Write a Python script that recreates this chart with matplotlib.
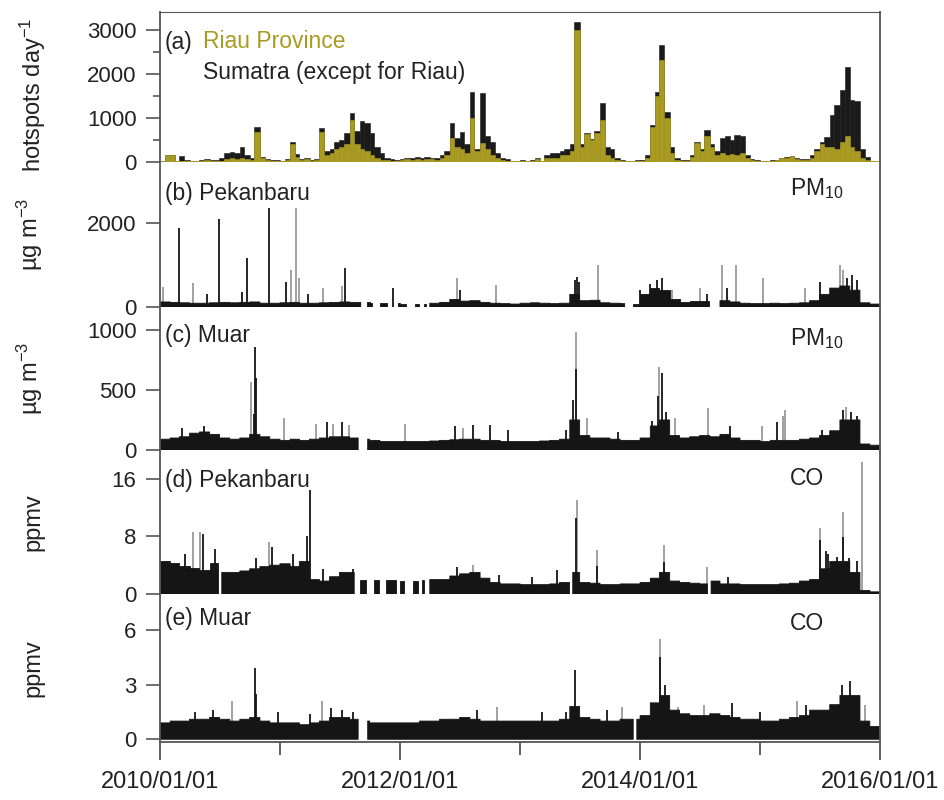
import matplotlib
matplotlib.use('Agg')
import matplotlib.pyplot as plt
import matplotlib.dates as mdates
import numpy as np
import pandas as pd

from matplotlib.ticker import MultipleLocator

plt.rcParams['font.family'] = ['Liberation Sans', 'DejaVu Sans']
plt.rcParams['mathtext.default'] = 'regular'

# (a) hotspots per day, semi-monthly bins starting 2010/01/01 (24 per year)
hotspots_total = [
    20, 150, 150, 30, 130, 40, 30, 30, 40, 60, 50, 40, 80, 200, 230, 210, 340, 150, 80, 800, 120, 60, 40, 40,
    30, 60, 450, 180, 60, 90, 50, 60, 770, 250, 300, 450, 500, 650, 1110, 700, 930, 880, 650, 350, 200, 100, 60, 40,
    60, 100, 90, 110, 80, 120, 100, 80, 150, 250, 880, 540, 680, 400, 1590, 300, 1560, 600, 450, 200, 100, 60, 30, 30,
    40, 30, 40, 100, 30, 150, 200, 200, 250, 300, 400, 3180, 400, 660, 520, 700, 1340, 340, 300, 100, 50, 30, 30, 40,
    40, 150, 840, 1590, 2650, 1130, 340, 80, 40, 40, 150, 450, 300, 720, 400, 250, 550, 600, 500, 620, 600, 150, 60, 40,
    30, 30, 40, 50, 100, 120, 130, 80, 60, 70, 150, 300, 450, 560, 1060, 1300, 1640, 2160, 1400, 1380, 300, 120, 30, 10,
]
hotspots_riau = [
    10, 150, 150, 20, 30, 20, 20, 20, 30, 40, 30, 20, 30, 60, 80, 60, 80, 60, 40, 690, 80, 40, 20, 20,
    20, 40, 400, 120, 40, 60, 30, 40, 690, 150, 200, 300, 350, 400, 950, 400, 300, 250, 150, 80, 50, 40, 30, 20,
    40, 60, 50, 60, 40, 70, 60, 40, 80, 150, 540, 350, 300, 200, 1000, 250, 430, 300, 150, 80, 50, 30, 20, 20,
    20, 20, 20, 60, 20, 80, 100, 100, 150, 150, 250, 3000, 350, 640, 500, 650, 950, 150, 100, 50, 30, 20, 20, 20,
    20, 100, 800, 1500, 2320, 1000, 200, 50, 30, 30, 120, 430, 250, 600, 350, 150, 200, 150, 180, 150, 200, 80, 40, 30,
    20, 20, 30, 40, 80, 100, 130, 60, 40, 50, 100, 250, 400, 350, 340, 300, 450, 600, 350, 250, 80, 40, 20, 5,
]

# (b) Pekanbaru PM10: monthly background level, data gaps, single-day spikes
pek_pm10_monthly = [
    120, 110, 100, 90, 90, 100, 110, 100, 110, 120, 90, 90,
    100, 110, 90, 90, 100, 110, 120, 110, 110, 100, 90, 90,
    80, 80, 70, 90, 110, 180, 140, 150, 110, 90, 80, 70,
    90, 100, 90, 80, 90, 300, 150, 160, 100, 90, 80, 80,
    300, 450, 400, 200, 120, 150, 150, 200, 150, 120, 90, 80,
    80, 90, 80, 90, 100, 150, 300, 450, 500, 400, 100, 70,
]
pek_pm10_gaps = [
    ('2011-09-05', '2011-09-22'), ('2011-10-10', '2011-11-02'), ('2011-11-25', '2011-12-25'),
    ('2012-01-20', '2012-02-15'), ('2012-03-01', '2012-03-15'), ('2012-03-20', '2012-04-01'),
    ('2013-11-16', '2013-12-10'), ('2014-08-01', '2014-09-01'),
]
pek_pm10_dates = [
    '2010-01-10', '2010-02-27', '2010-04-10', '2010-05-23', '2010-07-01', '2010-09-07', '2010-09-22',
    '2010-11-28', '2011-01-19', '2011-02-03', '2011-02-18', '2011-02-27', '2011-03-26', '2011-05-11',
    '2011-07-08', '2011-07-17', '2011-12-10', '2012-06-22', '2012-07-01', '2012-10-19', '2013-06-16',
    '2013-06-23', '2013-06-30', '2013-08-25', '2014-01-02', '2014-02-01', '2014-02-22', '2014-03-08',
    '2014-04-08', '2014-07-02', '2014-07-23', '2014-09-07', '2014-09-22', '2014-10-20', '2015-01-10',
    '2015-05-17', '2015-07-02', '2015-09-01', '2015-09-10', '2015-09-22', '2015-10-07', '2015-10-22',
]
pek_pm10_vals = [
    480, 1880, 570, 300, 2090, 350, 1170,
    2360, 600, 880, 2360, 700, 300, 460,
    500, 930, 460, 700, 400, 520, 650,
    720, 600, 1000, 400, 550, 650, 700,
    400, 450, 300, 1000, 450, 1000, 700,
    450, 600, 1000, 880, 700, 750, 650,
]
pek_pm10_kind = [
    'g', 'k', 'g', 'k', 'k', 'k', 'k',
    'k', 'k', 'g', 'g', 'g', 'k', 'g',
    'g', 'k', 'k', 'g', 'k', 'g', 'k',
    'k', 'k', 'g', 'k', 'k', 'k', 'k',
    'g', 'g', 'k', 'g', 'k', 'g', 'g',
    'g', 'k', 'g', 'g', 'k', 'k', 'k',
]

# (c) Muar PM10
muar_pm10_monthly = [
    90, 100, 110, 140, 150, 130, 100, 90, 100, 130, 110, 90,
    80, 90, 80, 90, 100, 110, 110, 100, 90, 80, 70, 70,
    70, 70, 70, 75, 80, 85, 90, 90, 80, 80, 70, 70,
    70, 70, 75, 80, 90, 250, 120, 100, 100, 90, 80, 80,
    100, 200, 250, 120, 100, 110, 120, 110, 130, 100, 80, 80,
    70, 80, 80, 80, 90, 100, 120, 160, 250, 250, 50, 40,
]
muar_pm10_gaps = [('2011-08-28', '2011-09-25')]
muar_pm10_dates = [
    '2010-03-08', '2010-05-15', '2010-10-04', '2010-10-15', '2010-10-17', '2010-10-20', '2011-01-13',
    '2011-04-20', '2011-05-25', '2011-06-12', '2011-07-08', '2011-07-30', '2012-01-16', '2012-06-16',
    '2012-07-12', '2012-08-10', '2012-10-01', '2012-11-24', '2013-05-20', '2013-06-11', '2013-06-20',
    '2013-06-20', '2013-07-23', '2013-10-26', '2014-02-06', '2014-02-24', '2014-02-28', '2014-03-08',
    '2014-03-22', '2014-04-17', '2014-07-26', '2014-10-01', '2015-01-07', '2015-02-22', '2015-03-12',
    '2015-03-17', '2015-07-08', '2015-09-10', '2015-09-20', '2015-10-05', '2015-10-23',
]
muar_pm10_vals = [
    180, 200, 570, 300, 860, 600, 270,
    220, 230, 220, 230, 210, 220, 200,
    180, 210, 210, 170, 170, 420, 980,
    670, 270, 150, 240, 450, 690, 640,
    320, 270, 350, 200, 200, 230, 280,
    330, 170, 330, 360, 320, 280,
]
muar_pm10_kind = [
    'k', 'k', 'g', 'k', 'k', 'k', 'g',
    'g', 'k', 'g', 'k', 'g', 'g', 'k',
    'g', 'k', 'k', 'k', 'k', 'k', 'g',
    'k', 'g', 'k', 'k', 'k', 'g', 'k',
    'k', 'g', 'g', 'k', 'g', 'k', 'g',
    'g', 'k', 'k', 'g', 'k', 'k',
]

# (d) Pekanbaru CO
pek_co_monthly = [
    4.6, 4.3, 3.9, 3.6, 3.4, 4.3, 3.0, 3.0, 3.2, 3.5, 3.8, 4.0,
    4.2, 3.8, 4.5, 2.0, 1.8, 2.4, 3.0, 3.0, 2.0, 2.0, 2.0, 2.0,
    1.8, 1.8, 2.0, 2.0, 2.0, 2.5, 2.8, 3.0, 2.2, 1.6, 1.4, 1.4,
    1.3, 1.3, 1.3, 1.4, 1.6, 3.0, 1.6, 1.5, 1.3, 1.3, 1.4, 1.4,
    1.6, 2.2, 3.0, 1.8, 1.6, 1.5, 1.4, 1.8, 1.4, 1.4, 1.3, 1.3,
    1.3, 1.3, 1.4, 1.5, 1.8, 2.0, 3.5, 4.5, 4.5, 3.0, 0.5, 0.3,
]
pek_co_gaps = [
    ('2010-06-26', '2010-07-08'), ('2011-08-16', '2011-09-01'), ('2011-09-20', '2011-10-15'),
    ('2011-10-30', '2011-11-20'), ('2011-12-20', '2012-01-01'), ('2012-01-15', '2012-02-10'),
    ('2012-02-25', '2012-03-08'), ('2012-03-15', '2012-04-01'), ('2013-06-01', '2013-06-10'),
    ('2014-07-26', '2014-08-05'),
]
pek_co_dates = [
    '2010-03-17', '2010-04-10', '2010-05-02', '2010-05-13', '2010-06-18', '2010-10-19', '2010-11-28',
    '2010-12-08', '2011-02-09', '2011-03-24', '2011-04-02', '2011-05-11', '2011-08-10', '2012-06-22',
    '2012-08-10', '2012-10-28', '2013-02-06', '2013-04-22', '2013-06-20', '2013-06-23', '2013-08-22',
    '2013-08-22', '2014-03-14', '2014-03-14', '2014-07-23', '2014-09-25', '2015-07-02', '2015-07-02',
    '2015-07-20', '2015-07-27', '2015-08-22', '2015-09-10', '2015-09-10', '2015-09-28', '2015-10-22',
    '2015-11-06',
]
pek_co_vals = [
    5.5, 8.6, 8.6, 8.3, 6.2, 5.0, 7.2,
    6.5, 5.5, 8.0, 14.4, 3.5, 3.5, 3.7,
    4.0, 2.6, 2.3, 3.3, 10.5, 13.1, 6.1,
    3.9, 6.8, 4.5, 3.8, 2.4, 9.1, 7.5,
    6.0, 5.6, 5.2, 11.4, 7.9, 5.0, 4.6,
    18.4,
]
pek_co_kind = [
    'k', 'g', 'g', 'k', 'k', 'k', 'g',
    'k', 'k', 'k', 'k', 'k', 'k', 'k',
    'g', 'k', 'k', 'k', 'k', 'g', 'g',
    'k', 'g', 'k', 'g', 'k', 'g', 'k',
    'k', 'k', 'k', 'g', 'k', 'k', 'k',
    'g',
]

# (e) Muar CO
muar_co_monthly = [
    0.9, 1.0, 1.0, 1.1, 1.1, 1.2, 1.1, 1.0, 1.1, 1.2, 1.0, 0.9,
    0.9, 0.9, 0.8, 0.9, 1.0, 1.2, 1.2, 1.1, 1.0, 0.9, 0.9, 0.9,
    0.9, 0.9, 1.0, 1.0, 1.1, 1.1, 1.2, 1.1, 1.0, 1.0, 1.0, 1.0,
    1.0, 1.0, 1.0, 1.0, 1.1, 1.8, 1.2, 1.1, 1.0, 1.0, 1.1, 1.1,
    1.3, 2.0, 2.4, 1.6, 1.4, 1.3, 1.3, 1.4, 1.3, 1.2, 1.1, 1.1,
    1.0, 1.0, 1.1, 1.2, 1.3, 1.6, 1.6, 1.9, 2.4, 2.4, 1.0, 0.7,
]
muar_co_gaps = [('2011-08-28', '2011-09-25'), ('2013-12-12', '2013-12-22')]
muar_co_dates = [
    '2010-04-17', '2010-06-10', '2010-08-08', '2010-10-17', '2010-10-19', '2010-12-25', '2011-04-02',
    '2011-05-08', '2011-06-05', '2011-07-10', '2011-08-10', '2012-08-22', '2012-10-22', '2013-03-08',
    '2013-05-20', '2013-06-17', '2013-09-22', '2013-11-07', '2014-02-06', '2014-03-02', '2014-03-02',
    '2014-03-18', '2014-04-25', '2014-07-15', '2014-10-07', '2015-01-01', '2015-04-22', '2015-05-20',
    '2015-09-07', '2015-10-01', '2015-10-30', '2015-11-16',
]
muar_co_vals = [
    1.5, 1.6, 2.1, 3.9, 2.5, 1.5, 1.4,
    2.1, 1.7, 1.6, 1.5, 1.6, 1.8, 1.5,
    1.5, 3.8, 1.6, 1.8, 2.0, 5.5, 4.5,
    3.0, 1.8, 1.9, 2.0, 1.5, 2.1, 1.9,
    3.0, 3.2, 2.2, 1.9,
]
muar_co_kind = [
    'k', 'k', 'g', 'k', 'k', 'k', 'k',
    'g', 'k', 'k', 'k', 'k', 'g', 'k',
    'k', 'k', 'k', 'g', 'k', 'g', 'k',
    'k', 'g', 'g', 'k', 'k', 'g', 'k',
    'k', 'k', 'k', 'g',
]

OLIVE = '#a99b22'
TXT = '#222222'
AXC = '#555555'
GRAY = '#9a9a9a'
DARK = '#151515'


def draw_station(ax, monthly, gaps, dates, vals, kind):
    days = pd.date_range('2010-01-01', '2015-12-31', freq='D')
    idx = (days.year - 2010) * 12 + days.month - 1
    bg = np.array(monthly, dtype=float)[idx]
    ok = np.ones(len(days), dtype=bool)
    for s, e in gaps:
        ok &= ~((days >= pd.Timestamp(s)) & (days < pd.Timestamp(e)))
    d = pd.to_datetime(dates)
    v = np.array(vals)
    k = np.array(kind)
    # gray spikes sit behind the black data
    ax.vlines(d[k == 'g'], 0, v[k == 'g'], colors=GRAY, linewidth=1.3, zorder=1)
    ax.fill_between(days, 0, bg, where=ok, step='post', color=DARK, lw=0.6, edgecolor=DARK, zorder=2)
    ax.vlines(d[k == 'k'], 0, v[k == 'k'], colors=DARK, linewidth=1.3, zorder=3)


def style_axis(ax, ylim, major, minor=None):
    ax.set_ylim(*ylim)
    ax.yaxis.set_major_locator(MultipleLocator(major))
    if minor:
        ax.yaxis.set_minor_locator(MultipleLocator(minor))
    ax.tick_params(axis='y', which='major', direction='out', length=10, width=1.2, color=AXC,
                   labelsize=16, labelcolor=TXT, pad=7)
    ax.tick_params(axis='y', which='minor', direction='out', length=5, width=1.2, color=AXC)
    ax.tick_params(axis='x', which='both', bottom=False, labelbottom=False)
    for sp in ['top', 'bottom']:
        ax.spines[sp].set_visible(False)
    for sp in ['left', 'right']:
        ax.spines[sp].set_color(AXC)
        ax.spines[sp].set_linewidth(1.3)


def main():
    fig = plt.figure(figsize=(9.45, 8), dpi=100)
    left, width = 160 / 945, 720 / 945
    # panel top/bottom in pixels (from top of the image)
    rows = [(12, 162), (162, 307), (307, 450), (450, 594), (594, 742)]
    axes = []
    for top, bot in rows:
        ax = fig.add_axes([left, 1 - bot / 800, width, (bot - top) / 800])
        axes.append(ax)
    xmin, xmax = pd.Timestamp('2010-01-01'), pd.Timestamp('2016-01-01')

    # (a) hotspots
    ax = axes[0]
    edges = pd.date_range('2010-01-01', periods=145, freq='SMS')
    widths = np.array((edges[1:] - edges[:-1]).days)
    ax.bar(edges[:-1], hotspots_total, width=widths, align='edge', color='#1a1a1a', edgecolor='#1a1a1a', lw=0.4)
    ax.bar(edges[:-1], hotspots_riau, width=widths, align='edge', color=OLIVE, edgecolor=OLIVE, lw=0.4)
    ax.axhline(0, color=OLIVE, lw=2)
    style_axis(ax, (0, 3400), 1000, 500)
    ax.spines['top'].set_visible(True)
    ax.spines['top'].set_color(AXC)
    ax.text(0.007, 0.8, '(a)', transform=ax.transAxes, fontsize=16.5, color=TXT, va='center')
    ax.text(0.06, 0.8, 'Riau Province', transform=ax.transAxes, fontsize=16.5, color=OLIVE, va='center')
    ax.text(0.06, 0.6, 'Sumatra (except for Riau)', transform=ax.transAxes, fontsize=16.5, color=TXT, va='center')
    ax.set_ylabel('hotspots day$^{-1}$', fontsize=17, color=TXT)
    ax.yaxis.set_label_coords(-0.155, 0.45)

    # (b) - (e) stations
    panels = [
        (axes[1], pek_pm10_monthly, pek_pm10_gaps, pek_pm10_dates, pek_pm10_vals, pek_pm10_kind,
         (0, 3450), 2000, '(b) Pekanbaru', 'PM$_{10}$', 'µg m$^{-3}$', 0.786, 0.82),
        (axes[2], muar_pm10_monthly, muar_pm10_gaps, muar_pm10_dates, muar_pm10_vals, muar_pm10_kind,
         (0, 1190), 500, '(c) Muar', 'PM$_{10}$', 'µg m$^{-3}$', 0.8, 0.78),
        (axes[3], pek_co_monthly, pek_co_gaps, pek_co_dates, pek_co_vals, pek_co_kind,
         (0, 20), 8, '(d) Pekanbaru', 'CO', 'ppmv', 0.79, 0.8),
        (axes[4], muar_co_monthly, muar_co_gaps, muar_co_dates, muar_co_vals, muar_co_kind,
         (-0.15, 7.98), 3, '(e) Muar', 'CO', 'ppmv', 0.835, 0.8),
    ]
    for ax, mon, gaps, dts, vals, kind, ylim, major, lab, species, unit, ly, sy in panels:
        draw_station(ax, mon, gaps, dts, vals, kind)
        style_axis(ax, ylim, major)
        ax.text(0.007, ly, lab, transform=ax.transAxes, fontsize=16.5, color=TXT, va='center')
        ax.text(0.875, sy, species, transform=ax.transAxes, fontsize=16.5, color=TXT, va='center')
        ax.set_ylabel(unit, fontsize=17, color=TXT)
        ax.yaxis.set_label_coords(-0.16, 0.5)

    for ax in axes:
        ax.set_xlim(xmin, xmax)

    # bottom date axis
    ax = axes[4]
    ax.spines['bottom'].set_visible(True)
    ax.spines['bottom'].set_color(AXC)
    ax.spines['bottom'].set_linewidth(1.3)
    ax.xaxis.set_major_locator(mdates.YearLocator(2))
    ax.xaxis.set_minor_locator(mdates.YearLocator(1))
    ax.xaxis.set_major_formatter(mdates.DateFormatter('%Y/%m/%d'))
    ax.tick_params(axis='x', which='major', bottom=True, labelbottom=True, direction='out', length=13,
                   width=1.3, color=AXC, labelsize=17, labelcolor=TXT, pad=8)
    ax.tick_params(axis='x', which='minor', bottom=True, direction='out', length=9, width=1.3, color=AXC)

    fig.savefig('out.png', dpi=100)


if __name__ == '__main__':
    main()
